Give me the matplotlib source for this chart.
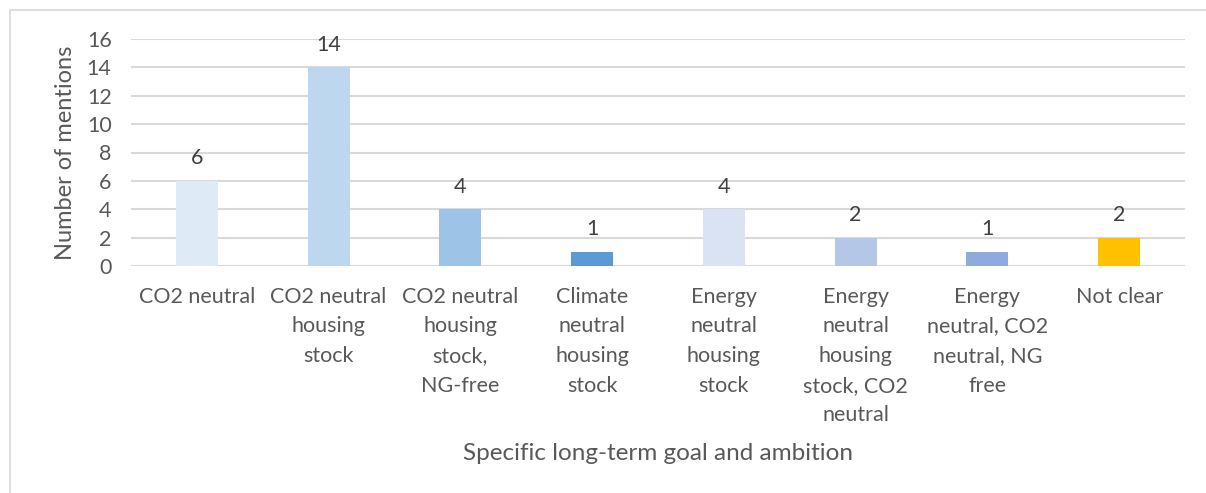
import matplotlib.pyplot as plt
from matplotlib.lines import Line2D

categories = ["CO2 neutral", "CO2 neutral\nhousing\nstock", "CO2 neutral\nhousing\nstock,\nNG-free",
              "Climate\nneutral\nhousing\nstock", "Energy\nneutral\nhousing\nstock",
              "Energy\nneutral\nhousing\nstock, CO2\nneutral", "Energy\nneutral, CO2\nneutral, NG\nfree",
              "Not clear"]
mentions = [6, 14, 4, 1, 4, 2, 1, 2]
bar_colors = ['#DEEBF7', '#BDD7EE', '#9DC3E6', '#5B9BD5', '#DAE3F3', '#B4C7E7', '#8FAADC', '#FFC000']

plt.rcParams['font.family'] = ['Lato', 'DejaVu Sans']

fig = plt.figure(figsize=(12.06, 4.93), dpi=100)
ax = fig.add_axes([131 / 1206, 1 - 266 / 493, 1054 / 1206, 227 / 493])

x = range(len(categories))
bars = ax.bar(x, mentions, width=0.32, color=bar_colors, zorder=3)
for b, v in zip(bars, mentions):
    ax.annotate(str(v), (b.get_x() + b.get_width() / 2, v), xytext=(0, 9),
                textcoords='offset points', ha='center', va='bottom',
                fontsize=15.5, color='#404040')

ax.set_xlim(-0.5, len(categories) - 0.5)
ax.set_ylim(0, 16)
ax.set_yticks(range(0, 17, 2))
ax.grid(axis='y', color='#D9D9D9', linewidth=1.5, zorder=0)
for s in ax.spines.values():
    s.set_visible(False)
ax.tick_params(axis='both', length=0, labelsize=15.5, labelcolor='#595959')
ax.tick_params(axis='x', pad=15)
ax.tick_params(axis='y', pad=14)
ax.set_xticks(list(x))
ax.set_xticklabels(categories, linespacing=1.6)

ax.set_ylabel("Number of mentions", fontsize=17, color='#595959', labelpad=8)
ax.set_xlabel("Specific long-term goal and ambition", fontsize=17.5, color='#595959', labelpad=13)

# outer chart frame (top and left edges visible)
fig.add_artist(Line2D([9.5 / 1206, 9.5 / 1206], [0, 1 - 10 / 493], color='#D9D9D9', lw=1.2))
fig.add_artist(Line2D([9.5 / 1206, 1], [1 - 10 / 493, 1 - 10 / 493], color='#D9D9D9', lw=1.2))

fig.savefig("out.png", dpi=100)
